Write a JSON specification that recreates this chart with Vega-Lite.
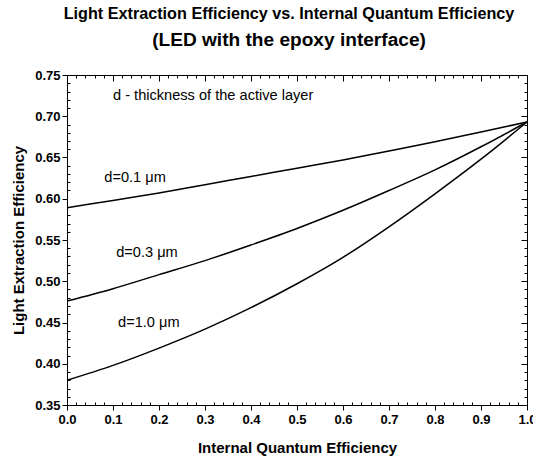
{
  "$schema": "https://vega.github.io/schema/vega-lite/v6.json",
  "width": 460,
  "height": 330,
  "autosize": "none",
  "padding": {"left": 67, "top": 75, "right": 6, "bottom": 55},
  "title": {
    "text": "Light Extraction Efficiency vs. Internal Quantum Efficiency",
    "subtitle": "(LED with the epoxy interface)",
    "anchor": "middle",
    "dx": -8,
    "font": "Liberation Sans",
    "fontSize": 16.2,
    "fontWeight": "bold",
    "color": "black",
    "subtitleFont": "Liberation Sans",
    "subtitleFontSize": 19.1,
    "subtitleFontWeight": "bold",
    "subtitleColor": "black",
    "subtitlePadding": 9,
    "offset": 19
  },
  "datasets": {
    "curves": [
      {"x": 0.0, "y": 0.589, "d": "0.1"},
      {"x": 0.1, "y": 0.598, "d": "0.1"},
      {"x": 0.2, "y": 0.607, "d": "0.1"},
      {"x": 0.3, "y": 0.617, "d": "0.1"},
      {"x": 0.4, "y": 0.627, "d": "0.1"},
      {"x": 0.5, "y": 0.637, "d": "0.1"},
      {"x": 0.6, "y": 0.647, "d": "0.1"},
      {"x": 0.7, "y": 0.658, "d": "0.1"},
      {"x": 0.8, "y": 0.669, "d": "0.1"},
      {"x": 0.9, "y": 0.681, "d": "0.1"},
      {"x": 1.0, "y": 0.693, "d": "0.1"},
      {"x": 0.0, "y": 0.476, "d": "0.3"},
      {"x": 0.1, "y": 0.491, "d": "0.3"},
      {"x": 0.2, "y": 0.508, "d": "0.3"},
      {"x": 0.3, "y": 0.525, "d": "0.3"},
      {"x": 0.4, "y": 0.544, "d": "0.3"},
      {"x": 0.5, "y": 0.564, "d": "0.3"},
      {"x": 0.6, "y": 0.586, "d": "0.3"},
      {"x": 0.7, "y": 0.610, "d": "0.3"},
      {"x": 0.8, "y": 0.635, "d": "0.3"},
      {"x": 0.9, "y": 0.663, "d": "0.3"},
      {"x": 1.0, "y": 0.693, "d": "0.3"},
      {"x": 0.0, "y": 0.380, "d": "1.0"},
      {"x": 0.1, "y": 0.398, "d": "1.0"},
      {"x": 0.2, "y": 0.419, "d": "1.0"},
      {"x": 0.3, "y": 0.442, "d": "1.0"},
      {"x": 0.4, "y": 0.468, "d": "1.0"},
      {"x": 0.5, "y": 0.497, "d": "1.0"},
      {"x": 0.6, "y": 0.529, "d": "1.0"},
      {"x": 0.7, "y": 0.566, "d": "1.0"},
      {"x": 0.8, "y": 0.606, "d": "1.0"},
      {"x": 0.9, "y": 0.648, "d": "1.0"},
      {"x": 1.0, "y": 0.693, "d": "1.0"}
    ],
    "labels": [
      {"x": 0.1, "y": 0.724, "label": "d - thickness of the active layer"},
      {"x": 0.081, "y": 0.625, "label": "d=0.1 μm"},
      {"x": 0.107, "y": 0.534, "label": "d=0.3 μm"},
      {"x": 0.111, "y": 0.449, "label": "d=1.0 μm"}
    ]
  },
  "layer": [
    {
      "data": {"name": "curves"},
      "mark": {"type": "line", "color": "black", "strokeWidth": 1.5, "interpolate": "monotone"},
      "encoding": {
        "x": {
          "field": "x", "type": "quantitative",
          "scale": {"domain": [0, 1], "nice": false, "zero": false},
          "axis": {
            "orient": "bottom",
            "values": [0, 0.1, 0.2, 0.3, 0.4, 0.5, 0.6, 0.7, 0.8, 0.9, 1.0],
            "format": ".1f",
            "grid": false,
            "tickSize": 5, "tickColor": "black", "domainColor": "black",
            "labelFont": "Liberation Sans", "labelFontSize": 13, "labelFontWeight": "bold", "labelColor": "black",
            "labelPadding": 3, "labelFlush": false,
            "title": "Internal Quantum Efficiency",
            "titleFont": "Liberation Sans", "titleFontSize": 15, "titleFontWeight": "bold", "titleColor": "black",
            "titlePadding": 14
          }
        },
        "y": {
          "field": "y", "type": "quantitative",
          "scale": {"domain": [0.35, 0.75], "nice": false, "zero": false},
          "axis": {
            "orient": "left",
            "values": [0.35, 0.4, 0.45, 0.5, 0.55, 0.6, 0.65, 0.7, 0.75],
            "format": ".2f",
            "grid": false,
            "tickSize": 5, "tickColor": "black", "domainColor": "black",
            "labelFont": "Liberation Sans", "labelFontSize": 13, "labelFontWeight": "bold", "labelColor": "black",
            "labelPadding": 2, "labelFlush": false,
            "title": "Light Extraction Efficiency",
            "titleFont": "Liberation Sans", "titleFontSize": 15, "titleFontWeight": "bold", "titleColor": "black",
            "titlePadding": 8
          }
        },
        "detail": {"field": "d", "type": "nominal"}
      }
    },
    {
      "data": {"name": "labels"},
      "mark": {"type": "text", "align": "left", "baseline": "middle", "font": "Liberation Sans", "fontSize": 14.6, "color": "black"},
      "encoding": {
        "x": {
          "field": "x", "type": "quantitative",
          "scale": {"domain": [0, 1], "nice": false, "zero": false},
          "axis": {
            "orient": "top", "values": [0, 0.1, 0.2, 0.3, 0.4, 0.5, 0.6, 0.7, 0.8, 0.9, 1.0],
            "labels": false, "title": null, "grid": false,
            "tickSize": -6, "tickColor": "black", "domainColor": "black"
          }
        },
        "y": {
          "field": "y", "type": "quantitative",
          "scale": {"domain": [0.35, 0.75], "nice": false, "zero": false},
          "axis": {
            "orient": "right", "values": [0.35, 0.4, 0.45, 0.5, 0.55, 0.6, 0.65, 0.7, 0.75],
            "labels": false, "title": null, "grid": false,
            "tickSize": -6, "tickColor": "black", "domainColor": "black"
          }
        },
        "text": {"field": "label", "type": "nominal"}
      }
    },
    {
      "data": {"name": "labels"},
      "mark": {"type": "point", "opacity": 0},
      "encoding": {
        "x": {
          "field": "x", "type": "quantitative",
          "scale": {"domain": [0, 1], "nice": false, "zero": false},
          "axis": {
            "orient": "bottom",
            "values": [0.02, 0.04, 0.06, 0.08, 0.12, 0.14, 0.16, 0.18, 0.22, 0.24, 0.26, 0.28, 0.32, 0.34, 0.36, 0.38, 0.42, 0.44, 0.46, 0.48, 0.52, 0.54, 0.56, 0.58, 0.62, 0.64, 0.66, 0.68, 0.72, 0.74, 0.76, 0.78, 0.82, 0.84, 0.86, 0.88, 0.92, 0.94, 0.96, 0.98],
            "labels": false, "title": null, "grid": false, "domain": false,
            "tickSize": -3, "tickColor": "black"
          }
        },
        "y": {
          "field": "y", "type": "quantitative",
          "scale": {"domain": [0.35, 0.75], "nice": false, "zero": false},
          "axis": {
            "orient": "left",
            "values": [0.36, 0.37, 0.38, 0.39, 0.41, 0.42, 0.43, 0.44, 0.46, 0.47, 0.48, 0.49, 0.51, 0.52, 0.53, 0.54, 0.56, 0.57, 0.58, 0.59, 0.61, 0.62, 0.63, 0.64, 0.66, 0.67, 0.68, 0.69, 0.71, 0.72, 0.73, 0.74],
            "labels": false, "title": null, "grid": false, "domain": false,
            "tickSize": -3, "tickColor": "black"
          }
        }
      }
    },
    {
      "data": {"name": "labels"},
      "mark": {"type": "point", "opacity": 0},
      "encoding": {
        "x": {
          "field": "x", "type": "quantitative",
          "scale": {"domain": [0, 1], "nice": false, "zero": false},
          "axis": {
            "orient": "top",
            "values": [0.02, 0.04, 0.06, 0.08, 0.12, 0.14, 0.16, 0.18, 0.22, 0.24, 0.26, 0.28, 0.32, 0.34, 0.36, 0.38, 0.42, 0.44, 0.46, 0.48, 0.52, 0.54, 0.56, 0.58, 0.62, 0.64, 0.66, 0.68, 0.72, 0.74, 0.76, 0.78, 0.82, 0.84, 0.86, 0.88, 0.92, 0.94, 0.96, 0.98],
            "labels": false, "title": null, "grid": false, "domain": false,
            "tickSize": -3, "tickColor": "black"
          }
        },
        "y": {
          "field": "y", "type": "quantitative",
          "scale": {"domain": [0.35, 0.75], "nice": false, "zero": false},
          "axis": {
            "orient": "right",
            "values": [0.36, 0.37, 0.38, 0.39, 0.41, 0.42, 0.43, 0.44, 0.46, 0.47, 0.48, 0.49, 0.51, 0.52, 0.53, 0.54, 0.56, 0.57, 0.58, 0.59, 0.61, 0.62, 0.63, 0.64, 0.66, 0.67, 0.68, 0.69, 0.71, 0.72, 0.73, 0.74],
            "labels": false, "title": null, "grid": false, "domain": false,
            "tickSize": -3, "tickColor": "black"
          }
        }
      }
    }
  ],
  "resolve": {"axis": {"x": "independent", "y": "independent"}},
  "config": {"view": {"stroke": null}, "font": "Liberation Sans", "background": "white"}
}
